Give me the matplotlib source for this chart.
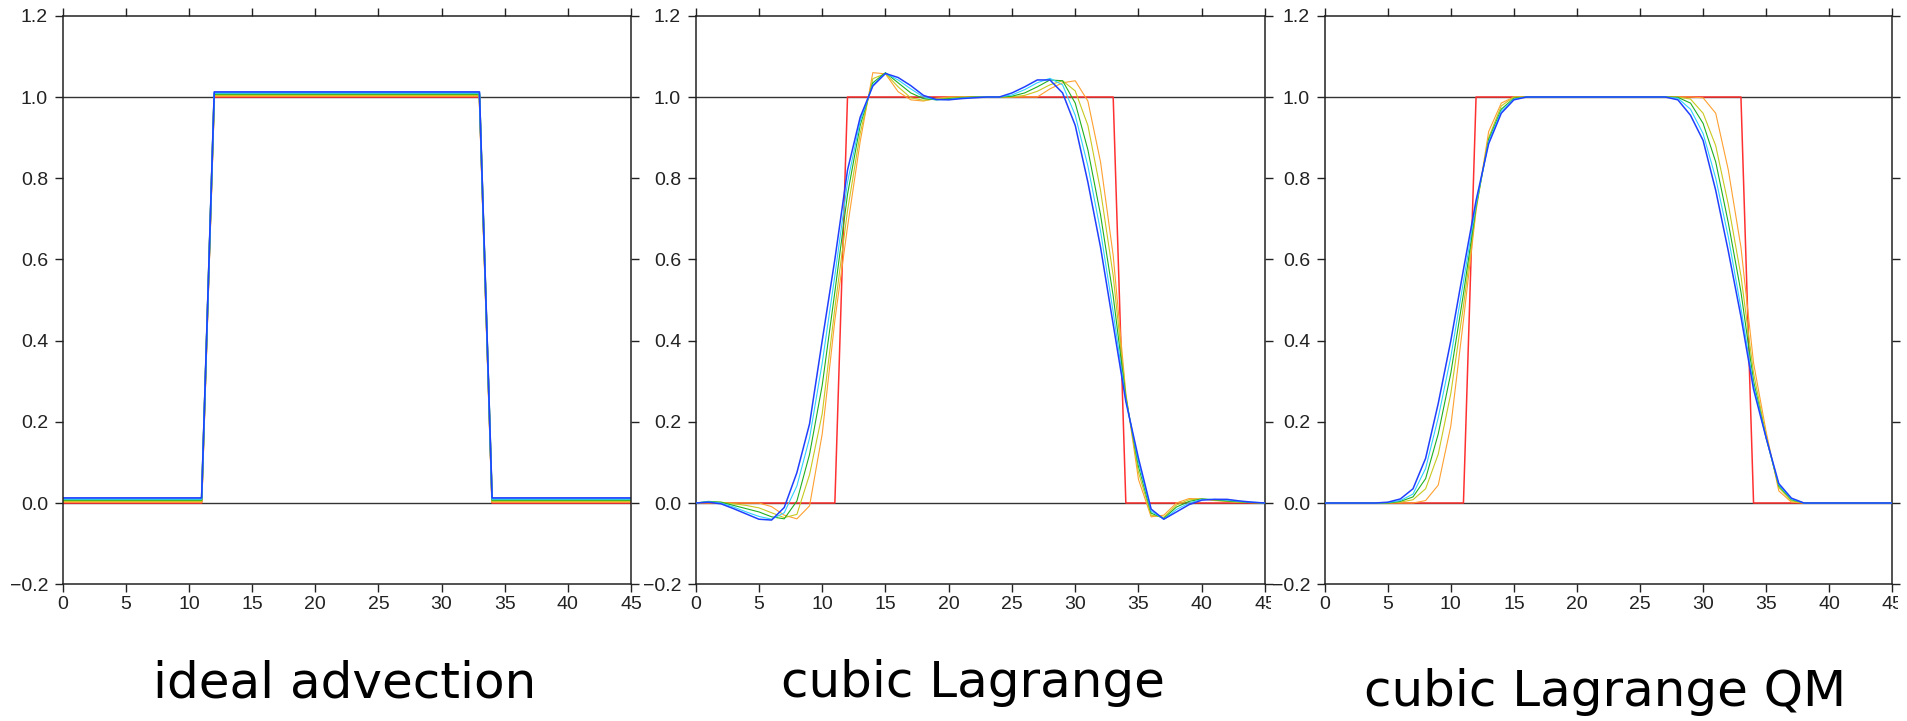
import numpy as np
import matplotlib
matplotlib.use("Agg")
import matplotlib.pyplot as plt
from matplotlib.transforms import Bbox, TransformedBbox

# data
x_grid = np.arange(0, 46)

titles = ["ideal advection", "cubic Lagrange", "cubic Lagrange QM"]
series_names = ["red", "orange", "yellow", "green", "cyan", "blue"]
colors = ["#ff3030", "#ffa030", "#c8c820", "#20b020", "#30d0ff", "#2040ff"]

# exact square wave (corners)
exact_x = [0, 11, 12, 33, 34, 45]
exact_y = [0, 0, 1, 1, 0, 0]
# small lift so every colour stays visible in the ideal panel
ideal_lift = [0.0, 0.0025, 0.005, 0.0075, 0.01, 0.0125]

# cubic Lagrange, values at x = 0..45
lag_orange = [0, 0, 0, 0, 0, 0, -0.009, -0.03, -0.039, -0.007, 0.17, 0.45,
              0.68, 0.89, 1.06, 1.057, 1.013, 0.993, 0.99, 0.997, 1.0, 1.0,
              1.0, 1.0, 1.0, 1.0, 1.0, 1.0, 1.02, 1.035, 1.04, 0.99, 0.84,
              0.61, 0.27, 0.058, -0.034, -0.03, 0.0, 0.011, 0.01, 0.006,
              0.004, 0.002, 0.001, 0]
lag_yellow = [0, 0.002, 0.002, -0.002, -0.006, -0.012, -0.024, -0.036,
              -0.028, 0.07, 0.22, 0.48, 0.72, 0.91, 1.045, 1.058, 1.025,
              0.998, 0.992, 0.995, 0.998, 1.0, 1.0, 1.0, 1.0, 1.0, 1.004,
              1.014, 1.03, 1.04, 1.015, 0.93, 0.77, 0.56, 0.265, 0.075,
              -0.03, -0.035, -0.005, 0.008, 0.01, 0.007, 0.004, 0.002,
              0.001, 0]
lag_green = [0, 0.004, 0.002, -0.006, -0.014, -0.022, -0.034, -0.039, 0.005,
             0.12, 0.29, 0.52, 0.76, 0.93, 1.035, 1.06, 1.035, 1.01, 0.996,
             0.993, 0.996, 0.998, 1.0, 1.0, 1.0, 1.002, 1.01, 1.025, 1.042,
             1.04, 0.985, 0.87, 0.71, 0.51, 0.26, 0.09, -0.025, -0.038,
             -0.01, 0.004, 0.01, 0.008, 0.005, 0.003, 0.001, 0]
lag_cyan = [0, 0.003, 0.0, -0.01, -0.022, -0.033, -0.040, -0.024, 0.042,
            0.16, 0.345, 0.56, 0.79, 0.94, 1.03, 1.058, 1.042, 1.02, 1.0,
            0.993, 0.994, 0.997, 0.999, 1.0, 1.0, 1.005, 1.018, 1.035,
            1.046, 1.03, 0.955, 0.83, 0.67, 0.47, 0.255, 0.1, -0.02, -0.04,
            -0.016, 0.0, 0.009, 0.009, 0.007, 0.004, 0.002, 0]
lag_blue = [0, 0.002, -0.002, -0.014, -0.027, -0.040, -0.042, -0.011, 0.075,
            0.195, 0.40, 0.60, 0.82, 0.95, 1.027, 1.058, 1.048, 1.028,
            1.004, 0.994, 0.993, 0.996, 0.998, 1.0, 1.0, 1.01, 1.025, 1.042,
            1.042, 1.01, 0.93, 0.79, 0.63, 0.44, 0.25, 0.11, -0.015, -0.04,
            -0.022, -0.004, 0.007, 0.009, 0.009, 0.005, 0.002, 0]

# cubic Lagrange with quasi-monotone limiter, values at x = 0..45
qm_orange = [0, 0, 0, 0, 0, 0, 0, 0.0, 0.006, 0.044, 0.19, 0.45, 0.72,
             0.915, 0.985, 1.0, 1.0, 1.0, 1.0, 1.0, 1.0, 1.0, 1.0, 1.0, 1.0,
             1.0, 1.0, 1.0, 1.0, 1.0, 0.998, 0.96, 0.82, 0.63, 0.345, 0.175,
             0.03, 0.002, 0, 0, 0, 0, 0, 0, 0, 0]
qm_yellow = [0, 0, 0, 0, 0, 0, 0.002, 0.008, 0.035, 0.12, 0.27, 0.485,
             0.725, 0.90, 0.978, 1.0, 1.0, 1.0, 1.0, 1.0, 1.0, 1.0, 1.0, 1.0,
             1.0, 1.0, 1.0, 1.0, 1.0, 0.995, 0.96, 0.88, 0.735, 0.56, 0.32,
             0.165, 0.038, 0.005, 0, 0, 0, 0, 0, 0, 0, 0]
qm_green = [0, 0, 0, 0, 0, 0, 0.004, 0.015, 0.06, 0.17, 0.32, 0.515, 0.73,
            0.895, 0.97, 0.997, 1.0, 1.0, 1.0, 1.0, 1.0, 1.0, 1.0, 1.0, 1.0,
            1.0, 1.0, 1.0, 0.999, 0.985, 0.935, 0.84, 0.69, 0.52, 0.30,
            0.16, 0.042, 0.008, 0, 0, 0, 0, 0, 0, 0, 0]
qm_cyan = [0, 0, 0, 0, 0, 0.001, 0.006, 0.022, 0.085, 0.21, 0.36, 0.545,
           0.735, 0.89, 0.965, 0.995, 1.0, 1.0, 1.0, 1.0, 1.0, 1.0, 1.0,
           1.0, 1.0, 1.0, 1.0, 1.0, 0.997, 0.97, 0.91, 0.80, 0.655, 0.48,
           0.29, 0.16, 0.045, 0.01, 0, 0, 0, 0, 0, 0, 0, 0]
qm_blue = [0, 0, 0, 0, 0, 0.002, 0.01, 0.035, 0.11, 0.245, 0.40, 0.575,
           0.745, 0.885, 0.96, 0.993, 1.0, 1.0, 1.0, 1.0, 1.0, 1.0, 1.0,
           1.0, 1.0, 1.0, 1.0, 1.0, 0.993, 0.955, 0.893, 0.77, 0.62, 0.459,
           0.28, 0.16, 0.048, 0.012, 0, 0, 0, 0, 0, 0, 0, 0]

lagrange = [lag_orange, lag_yellow, lag_green, lag_cyan, lag_blue]
lagrange_qm = [qm_orange, qm_yellow, qm_green, qm_cyan, qm_blue]

x_ticks = np.arange(0, 46, 5)
y_ticks = [-0.2, 0.0, 0.2, 0.4, 0.6, 0.8, 1.0, 1.2]

# figure
W, H = 1907, 721
fig = plt.figure(figsize=(W / 100, H / 100), dpi=100)

bottom = (H - 584.2) / H
height = (584.2 - 15.8) / H
lefts = [62.7, 695.7, 1324.7]
rights = [631.0, 1265.0, 1892.3]

axes = []
for l, r in zip(lefts, rights):
    ax = fig.add_axes([l / W, bottom, (r - l) / W, height])
    axes.append(ax)

for ax in axes:
    ax.axhline(0.0, color="#333333", lw=1.0, zorder=1)
    ax.axhline(1.0, color="#333333", lw=1.0, zorder=1)

# ideal advection: all colours sit on the exact solution
for c, lift in zip(colors, ideal_lift):
    axes[0].plot(exact_x, np.array(exact_y) + lift, color=c, lw=1.2, zorder=2)

# cubic Lagrange panels
for ax, curves in zip(axes[1:], [lagrange, lagrange_qm]):
    ax.plot(exact_x, exact_y, color=colors[0], lw=1.1, zorder=2)
    for i, (c, ys) in enumerate(zip(colors[1:], curves)):
        lw = 1.1 if i == len(curves) - 1 else 0.8
        ax.plot(x_grid, ys, color=c, lw=lw, zorder=3 + i)

for ax in axes:
    ax.set_xlim(0, 45)
    ax.set_ylim(-0.2, 1.2)
    ax.set_xticks(x_ticks)
    ax.set_yticks(y_ticks)
    ax.set_yticklabels([f"{v:.1f}".replace("-", "\u2212") for v in y_ticks])
    ax.tick_params(direction="out", length=8.3 * 72 / 100, width=1.0,
                   top=True, right=True, labelsize=14, colors="#222222")
    ax.tick_params(axis="x", pad=2.7)
    ax.tick_params(axis="y", pad=4.6)
    for lab in ax.get_xticklabels() + ax.get_yticklabels():
        lab.set_fontfamily("Liberation Sans")
    for s in ax.spines.values():
        s.set_linewidth(1.1)
        s.set_color("#222222")

# last x label of the middle and right panels is cut in the original
for ax, cut in [(axes[1], 1271), (axes[2], 1898)]:
    lab = ax.xaxis.get_major_ticks()[-1].label1
    lab.set_clip_box(TransformedBbox(Bbox([[0, 0], [cut / W, 1]]), fig.transFigure))
    lab.set_clip_on(True)

# captions under the panels
title_x = [345, 973, 1605]
title_base = [697, 697, 706]
for t, xc, yb in zip(titles, title_x, title_base):
    fig.text(xc / W, (H - yb) / H, t, ha="center", va="baseline",
             fontsize=36, family="DejaVu Sans", color="black")

fig.savefig("out.png", dpi=100)
